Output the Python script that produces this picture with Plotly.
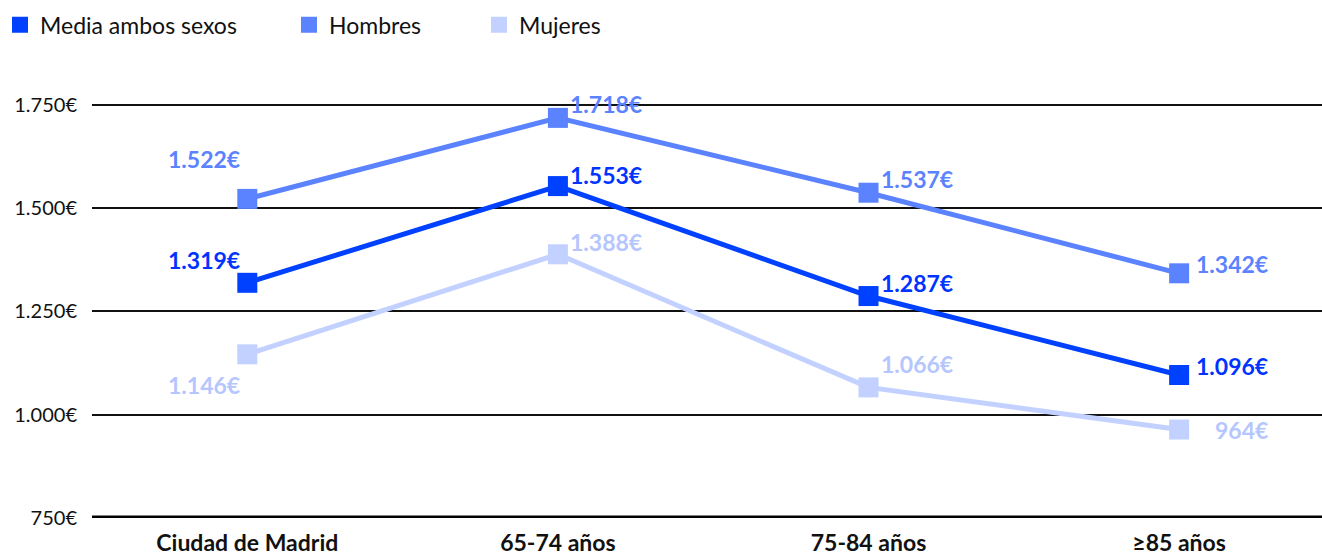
import plotly.graph_objects as go

categories = ["Ciudad de Madrid", "65-74 años", "75-84 años", "≥85 años"]
media = [1319, 1553, 1287, 1096]
hombres = [1522, 1718, 1537, 1342]
mujeres = [1146, 1388, 1066, 964]
y_ticks = [750, 1000, 1250, 1500, 1750]
y_tick_labels = ["750€", "1.000€", "1.250€", "1.500€", "1.750€"]

def fmt(v):
    return f"{v:,}".replace(",", ".") + "€"

FONT = "Lato, 'Open Sans', sans-serif"
series = [
    ("Media ambos sexos", media, "#0040ff", "#0033ff", 8),
    ("Hombres", hombres, "#5b82ff", "#5b82ff", 9),
    ("Mujeres", mujeres, "#c2d1ff", "#b5c6ff", 0),
]
# label offsets (xanchor, xshift, yshift) per series per point
offsets = {
    "Media ambos sexos": [("center", -43, 23), ("left", 10, 11), ("left", 10, 13), ("right", 91, 9)],
    "Hombres": [("center", -43, 40), ("left", 10, 14), ("left", 10, 14), ("right", 91, 9)],
    "Mujeres": [("center", -43, -31), ("left", 10, 12), ("left", 10, 23), ("right", 91, 0)],
}

fig = go.Figure()
annotations = []
for name, vals, col, tcol, pad in series:
    fig.add_trace(go.Scatter(
        x=categories, y=vals, mode="lines+markers", name=name, showlegend=False,
        line=dict(color=col, width=5),
        marker=dict(symbol="square", size=20, color=col),
        cliponaxis=False,
    ))
    fig.add_trace(go.Scatter(
        x=[None], y=[None], mode="markers", name=name + "\u00a0" * pad, showlegend=True,
        marker=dict(symbol="square", size=20, color=col),
    ))
for name, vals, col, tcol, pad in reversed(series):
    for i, (c, v) in enumerate(zip(categories, vals)):
        xa, xs, ys = offsets[name][i]
        annotations.append(dict(
            x=c, y=v, xref="x", yref="y", text=f"<b>{fmt(v)}</b>", showarrow=False,
            xanchor=xa, yanchor="middle", xshift=xs, yshift=ys,
            font=dict(family=FONT, size=23, color=tcol),
        ))

fig.update_layout(
    width=1322, height=556,
    margin=dict(l=92, r=0, t=84, b=38, autoexpand=False),
    paper_bgcolor="white", plot_bgcolor="white",
    font=dict(family=FONT, color="#111111"),
    showlegend=True,
    legend=dict(
        orientation="h", x=-0.013, xref="container", y=0.994, yref="container",
        xanchor="left", yanchor="top",
        font=dict(family=FONT, size=23, color="#111111"),
        traceorder="normal",
    ),
    annotations=annotations,
)
fig.update_xaxes(
    range=[-0.5, 3.46], showgrid=False, zeroline=False, showline=False,
    tickfont=dict(family=FONT, size=23, color="#111111"),
    ticks="", ticklabelstandoff=9, automargin=False,
    tickvals=categories, ticktext=[f"<b>{c}</b>" for c in categories],
)
fig.update_yaxes(
    range=[750, 1800], tickvals=y_ticks, ticktext=y_tick_labels,
    showgrid=True, gridcolor="#111111", gridwidth=1.5, zeroline=False,
    showline=False, ticks="", ticklabelstandoff=14, automargin=False,
    tickfont=dict(family=FONT, size=20, color="#111111"),
)
fig.add_hline(y=750, line=dict(color="black", width=5), layer="above")

fig.write_html("out.html", config={"displayModeBar": False},
               post_script="document.body.style.margin='0';")
